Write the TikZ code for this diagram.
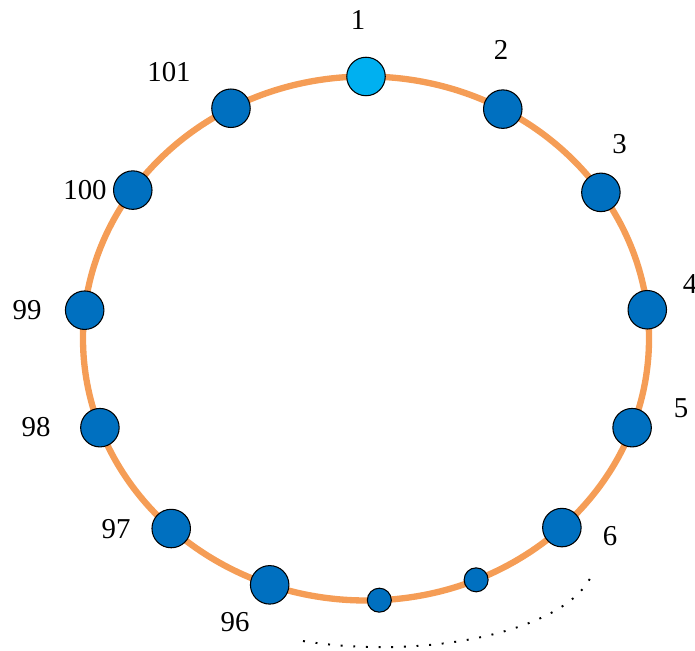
\documentclass[tikz,border=0pt]{standalone}
\usepackage{fontspec}
\setmainfont{Liberation Serif}
\usepackage{xcolor}
\usetikzlibrary{calc}
\definecolor{ringorange}{HTML}{F59D56}
\definecolor{peerblue}{HTML}{0070C0}
\definecolor{headblue}{HTML}{00B0F0}

\begin{document}
\begin{tikzpicture}[
  x=0.02cm,y=0.02cm,
  ring/.style={draw=ringorange,line width=3.6pt},
  peer/.style={circle,draw=black,line width=0.6pt,fill=peerblue,minimum size=0.77cm,inner sep=0pt},
  head/.style={peer,fill=headblue},
  minor/.style={peer,minimum size=0.48cm},
  tag/.style={font=\fontsize{16.4}{20}\selectfont,inner sep=0pt},
  dots/.style={line width=1.1pt,dash pattern=on 1.1pt off 6.1pt}
]
\useasboundingbox (0,0) rectangle (695,651);
\coordinate (c) at (366,312.5);
\draw[ring] (c) ellipse [x radius=283,y radius=262];
% peers on the ring
\node[head] (n1) at ($(c)+(90:283 and 262)$) {};
\node[peer] (n2) at ($(c)+(61.1:283 and 262)$) {};
\node[peer] (n3) at ($(c)+(33.9:283 and 262)$) {};
\node[peer] (n4) at ($(c)+(6.3:283 and 262)$) {};
\node[peer] (n5) at ($(c)+(-19.9:283 and 262)$) {};
\node[peer] (n6) at ($(c)+(-46.2:283 and 262)$) {};
\node[minor] (m1) at ($(c)+(-67.1:283 and 262)$) {};
\node[minor] (m2) at ($(c)+(-87.3:283 and 262)$) {};
\node[peer] (n96) at ($(c)+(-109.9:283 and 262)$) {};
\node[peer] (n97) at ($(c)+(-133.5:283 and 262)$) {};
\node[peer] (n98) at ($(c)+(-160.1:283 and 262)$) {};
\node[peer] (n99) at ($(c)+(173.8:283 and 262)$) {};
\node[peer] (n100) at ($(c)+(145.5:283 and 262)$) {};
\node[peer] (n101) at ($(c)+(118.5:283 and 262)$) {};
% numbers
\node[tag] (t1) at (358,631) {1};
\node[tag] (t2) at (501,601.5) {2};
\node[tag] (t3) at (619.5,507) {3};
\node[tag] (t4) at (690,367) {4};
\node[tag] (t5) at (681,243) {5};
\node[tag] (t6) at (610,115) {6};
\node[tag] (t96) at (235,28.5) {96};
\node[tag] (t97) at (116,122) {97};
\node[tag] (t98) at (36,224) {98};
\node[tag] (t99) at (27,341) {99};
\node[tag] (t100) at (85,461) {100};
\node[tag] (t101) at (169,579) {101};
% the skipped part
\coordinate (d0) at (303,10);
\draw[dots] (d0) arc[start angle=-111.7,end angle=-7.3,x radius=213,y radius=87];
\end{tikzpicture}
\end{document}
